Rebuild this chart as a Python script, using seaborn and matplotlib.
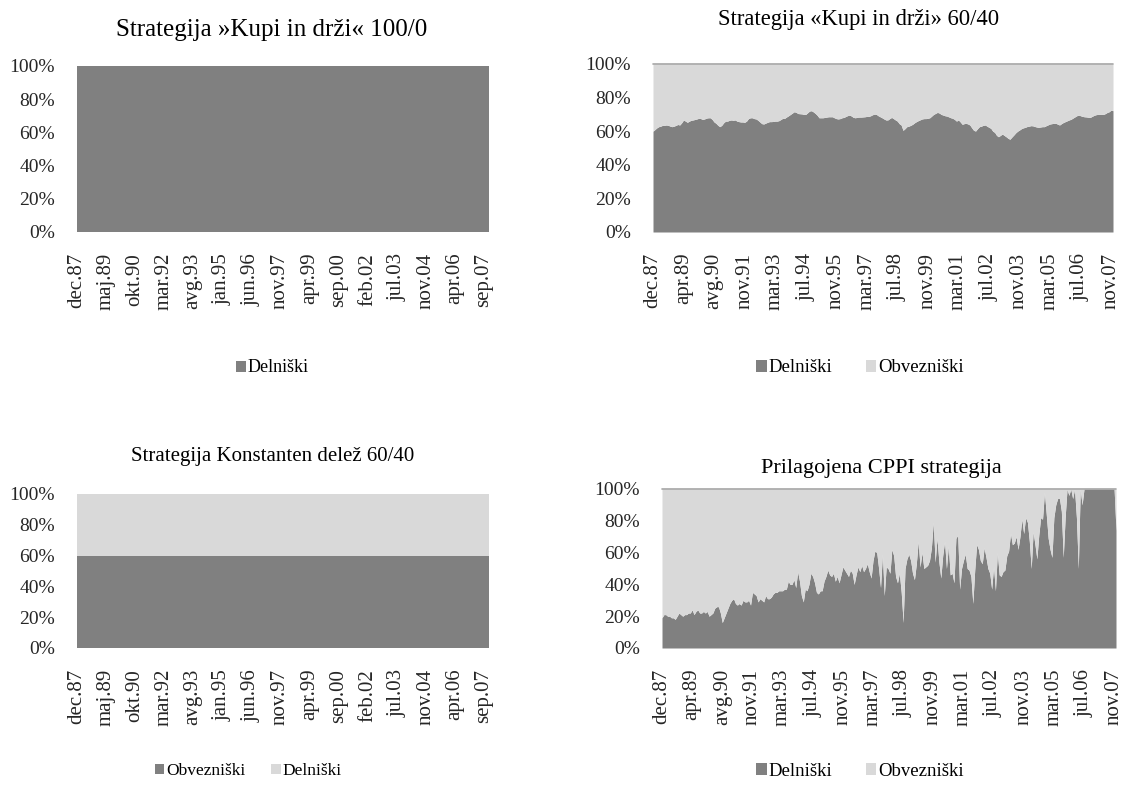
import matplotlib
matplotlib.use("Agg")
import matplotlib.pyplot as plt
from matplotlib.patches import Patch
import numpy as np
import seaborn as sns

# ---- category labels on the month axis ----
oznake_levo = ["dec.87", "maj.89", "okt.90", "mar.92", "avg.93", "jan.95", "jun.96",
               "nov.97", "apr.99", "sep.00", "feb.02", "jul.03", "nov.04", "apr.06", "sep.07"]
oznake_desno = ["dec.87", "apr.89", "avg.90", "nov.91", "mar.93", "jul.94", "nov.95", "mar.97",
                "jul.98", "nov.99", "mar.01", "jul.02", "nov.03", "mar.05", "jul.06", "nov.07"]
korak_levo = 17
korak_desno = 16
n_mesecev_levo = 242

# ---- constant-mix strategies (share in %) ----
delez_delniski_100_0 = 100.0
delez_obvezniski_konst = 60.0

# ---- buy-and-hold 60/40: monthly stock share in % ----
delniski_60_40 = [
    60.0, 61.0, 62.0, 62.7, 63.0, 63.5, 63.5, 63.7, 63.5, 63.0, 62.7, 63.0,
    63.5, 64.0, 63.7, 65.0, 66.7, 66.0, 65.3, 66.0, 66.5, 66.7, 67.0, 67.3,
    67.7, 67.5, 67.0, 67.3, 67.8, 68.0, 68.0, 67.0, 65.5, 64.7, 63.5, 62.7,
    63.5, 65.0, 66.0, 66.0, 66.5, 66.7, 66.5, 66.7, 66.0, 65.7, 65.5, 65.5,
    65.3, 66.0, 67.5, 68.0, 68.0, 67.5, 67.3, 66.5, 65.5, 64.5, 64.3, 64.8,
    65.3, 65.7, 65.7, 65.8, 66.0, 66.0, 66.3, 67.0, 67.7, 67.7, 68.5, 69.2,
    70.0, 70.8, 71.6, 71.2, 70.5, 70.4, 70.3, 70.0, 70.0, 71.0, 72.0, 72.2,
    71.5, 70.6, 69.5, 68.0, 68.0, 68.0, 68.2, 68.4, 68.6, 68.6, 68.6, 68.0,
    67.5, 67.3, 67.5, 68.0, 68.2, 68.8, 69.3, 69.6, 69.0, 68.2, 68.0, 68.3,
    68.4, 68.4, 68.5, 68.6, 68.8, 68.8, 69.2, 69.8, 70.2, 70.0, 69.2, 68.6,
    68.0, 67.3, 66.7, 66.7, 67.5, 68.2, 67.5, 66.7, 66.0, 64.5, 63.7, 60.5,
    61.5, 62.7, 63.0, 63.5, 64.1, 65.0, 65.7, 66.3, 66.8, 67.3, 67.5, 67.5,
    67.7, 68.0, 69.0, 70.0, 70.6, 71.2, 70.8, 70.0, 69.6, 69.2, 69.0, 68.5,
    68.0, 67.7, 67.0, 66.0, 66.7, 65.5, 64.1, 64.5, 64.7, 64.3, 63.7, 62.0,
    60.5, 60.1, 61.5, 62.7, 63.0, 63.5, 63.7, 63.0, 62.3, 61.7, 60.0, 59.3,
    57.5, 56.7, 57.5, 58.3, 57.5, 56.7, 55.8, 55.2, 56.5, 57.7, 59.0, 60.0,
    60.7, 61.5, 62.0, 62.3, 62.8, 63.0, 63.3, 63.2, 62.8, 62.5, 62.3, 62.5,
    62.7, 62.7, 63.3, 63.8, 64.3, 64.5, 64.7, 64.7, 64.2, 63.7, 64.5, 65.2,
    65.7, 66.2, 66.7, 67.1, 67.8, 68.5, 69.2, 69.6, 69.2, 68.8, 68.6, 68.5,
    68.3, 68.2, 68.8, 69.4, 69.8, 70.0, 70.0, 70.0, 70.0, 70.5, 71.2, 71.6,
    72.6, 72.2,
]

# ---- adjusted CPPI: monthly stock share in % ----
delniski_cppi = [
    19, 21, 21, 20, 20, 19, 19, 18, 20, 22, 21, 20,
    21, 21, 22, 22, 24, 21, 23, 24, 22, 22, 23, 22,
    23, 20, 21, 22, 25, 26, 26, 22, 16, 19, 22, 25,
    28, 30, 31, 28, 27, 28, 27, 30, 29, 29, 30, 27,
    35, 34, 33, 29, 31, 30, 29, 33, 31, 31, 32, 34,
    35, 35, 36, 36, 36, 37, 37, 42, 40, 40, 43, 38,
    48, 42, 33, 29, 37, 36, 40, 47, 45, 41, 35, 34,
    36, 36, 42, 45, 49, 46, 45, 47, 42, 45, 41, 46,
    51, 49, 47, 45, 49, 47, 40, 46, 51, 48, 52, 48,
    50, 53, 48, 44, 55, 61, 60, 50, 38, 59, 33, 51,
    50, 47, 62, 58, 45, 41, 47, 35, 16, 50, 56, 59,
    55, 47, 43, 53, 67, 51, 60, 50, 51, 52, 55, 63,
    79, 54, 69, 54, 44, 58, 67, 50, 64, 46, 47, 41,
    69, 71, 37, 50, 55, 59, 50, 49, 45, 28, 49, 65,
    62, 55, 53, 63, 57, 50, 47, 37, 51, 36, 60, 46,
    45, 48, 49, 58, 61, 72, 65, 66, 70, 62, 70, 81,
    72, 82, 79, 67, 50, 73, 65, 56, 71, 82, 81, 98,
    84, 69, 62, 57, 82, 90, 94, 94, 86, 57, 82, 100,
    96, 100, 94, 100, 82, 50, 100, 90, 100, 100, 100, 100,
    100, 100, 100, 100, 100, 100, 100, 100, 100, 100, 100, 100,
    100, 74,
]

TEMNA = "#808080"
SVETLA = "#D9D9D9"
ROB = "#A6A6A6"

sns.set_theme(style="white")
plt.rcParams["font.family"] = ["Liberation Serif", "DejaVu Serif"]
plt.rcParams["text.color"] = "black"

fig = plt.figure(figsize=(11.31, 7.87), dpi=100)
W, H = 1131, 787


def os_ploskev(l, r, t, b):
    return fig.add_axes([l / W, 1 - b / H, (r - l) / W, (b - t) / H])


def oblikuj(ax, n, korak, oznake, rob=False, vel=15):
    x_pos = np.arange(0, korak * len(oznake), korak)
    ax.set_xlim(0, n - 1)
    ax.set_ylim(0, 100)
    ax.set_xticks(x_pos)
    ax.set_xticklabels(oznake, rotation=90, fontsize=vel)
    ax.set_yticks(range(0, 101, 20))
    ax.set_yticklabels([f"{v}%" for v in range(0, 101, 20)], fontsize=14)
    ax.tick_params(axis="y", length=0, pad=16)
    ax.tick_params(axis="x", length=0, pad=15)
    sns.despine(ax=ax, left=True, bottom=True)
    if rob:
        ax.axhline(100, color=ROB, lw=1.2, zorder=5, clip_on=False)


def legenda(imena, barve, cx, cy, vel=13.5, razmik=1.8):
    rocaji = [Patch(facecolor=b, edgecolor="none") for b in barve]
    fig.legend(rocaji, imena, loc="center", bbox_to_anchor=(cx / W, 1 - cy / H),
               ncol=len(imena), frameon=False, fontsize=vel, handlelength=0.55,
               handleheight=0.55, handletextpad=0.1, columnspacing=razmik)


# Buy and hold 100/0
x_l = np.arange(n_mesecev_levo)
ax1 = os_ploskev(77, 489, 66, 232)
ax1.stackplot(x_l, np.full(n_mesecev_levo, delez_delniski_100_0), colors=[TEMNA], lw=0)
oblikuj(ax1, n_mesecev_levo, korak_levo, oznake_levo)
fig.text(272 / W, 1 - 30 / H, "Strategija »Kupi in drži« 100/0", ha="center", va="center", fontsize=18)
legenda(["Delniški"], [TEMNA], 272, 368, vel=13)

# Buy and hold 60/40
d6040 = np.array(delniski_60_40)
x_r = np.arange(len(d6040))
ax2 = os_ploskev(653, 1113, 64, 232)
ax2.stackplot(x_r, d6040, 100 - d6040, colors=[TEMNA, SVETLA], lw=0)
oblikuj(ax2, len(d6040), korak_desno, oznake_desno, rob=True)
fig.text(859 / W, 1 - 20 / H, "Strategija «Kupi in drži» 60/40", ha="center", va="center", fontsize=16.3)
legenda(["Delniški", "Obvezniški"], [TEMNA, SVETLA], 860, 368)

# Constant mix 60/40
ax3 = os_ploskev(77, 489, 494, 648)
obv = np.full(n_mesecev_levo, delez_obvezniski_konst)
ax3.stackplot(x_l, obv, 100 - obv, colors=[TEMNA, SVETLA], lw=0)
oblikuj(ax3, n_mesecev_levo, korak_levo, oznake_levo)
fig.text(273 / W, 1 - 457 / H, "Strategija Konstanten delež 60/40", ha="center", va="center", fontsize=15)
legenda(["Obvezniški", "Delniški"], [TEMNA, SVETLA], 248, 771, vel=12.5, razmik=1.5)

# Adjusted CPPI
dc = np.array(delniski_cppi, dtype=float)
x_c = np.arange(len(dc))
ax4 = os_ploskev(662, 1116, 489, 648)
ax4.stackplot(x_c, dc, 100 - dc, colors=[TEMNA, SVETLA], lw=0)
oblikuj(ax4, len(dc), korak_desno, oznake_desno, rob=True)
fig.text(881 / W, 1 - 468 / H, "Prilagojena CPPI strategija", ha="center", va="center", fontsize=16)
legenda(["Delniški", "Obvezniški"], [TEMNA, SVETLA], 860, 771)

fig.savefig("out.png", dpi=100, facecolor="white")
